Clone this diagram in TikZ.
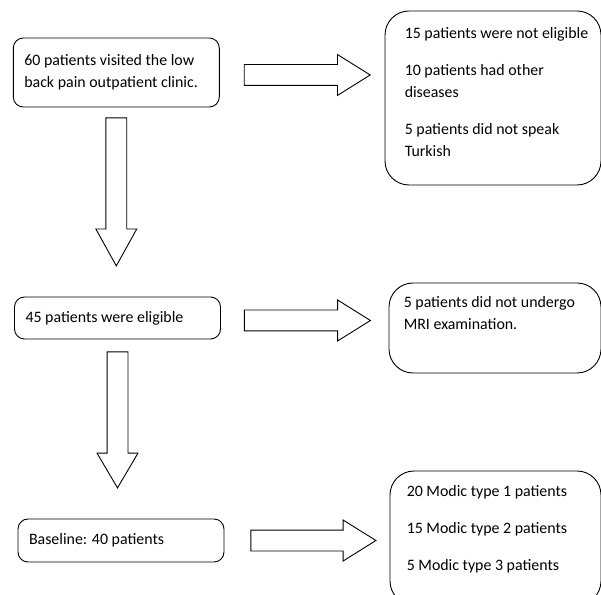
\documentclass[tikz,border=0pt]{standalone}
\usepackage{fontspec}
\setmainfont{Carlito}
\usetikzlibrary{shapes.arrows, positioning}
\tikzstyle{stage} = [draw, rounded corners=10pt, line width=0.9pt, align=flush left, text width=184pt, inner xsep=11pt, font=\fontsize{15.9}{22}\selectfont]
\tikzstyle{outcome} = [draw, rounded corners=24pt, line width=0.9pt]
\tikzstyle{note} = [align=flush left, inner sep=0pt, font=\fontsize{15.9}{22}\selectfont]
\tikzstyle{harrow} = [single arrow, draw, line width=0.9pt, inner xsep=0pt, inner ysep=10pt, single arrow head extend=10pt, single arrow tip angle=64, minimum height=126pt]
\tikzstyle{varrow} = [harrow, rotate=-90, single arrow tip angle=58]

\begin{document}
\begin{tikzpicture}[x=1pt, y=1pt]
    \useasboundingbox (0,0) rectangle (601,594);
    \clip (0,0) rectangle (601,594);
        % left column
        \node[stage, minimum height=69pt] (visit) at (116.3,521.5) {60 patients visited the low\\back pain outpatient clinic.};
        \node[stage, minimum height=42pt] (elig) at (117.5,276) {45 patients were eligible};
        \node[stage, minimum height=43pt] (base) at (121,53.5) {Baseline: 40 patients};
        % right column
        \node[outcome, minimum width=216pt, minimum height=174pt] (excl1) at (493,496) {};
        \node[note, below right=17pt and 20pt of excl1.north west] (excl1txt) {15 patients were not eligible\\[15pt]10 patients had other\\diseases\\[15pt]5 patients did not speak\\Turkish};
        \node[outcome, minimum width=212pt, minimum height=90pt] (excl2) at (495,266) {};
        \node[note, below right=14pt and 15pt of excl2.north west] (excl2txt) {5 patients did not undergo\\MRI examination.};
        \node[outcome, minimum width=211pt, minimum height=134pt] (modic) at (495.5,56) {};
        \node[note, below right=15pt and 17pt of modic.north west] (modictxt) {20 Modic type 1 patients\\[15pt]15 Modic type 2 patients\\[15pt]5 Modic type 3 patients};
        % block arrows
        \node[harrow, right=24pt of visit, anchor=tail, yshift=-2.5pt] (toexcl1) {};
        \node[harrow, right=23pt of elig, anchor=tail, yshift=-2.5pt] (toexcl2) {};
        \node[harrow, right=26pt of base, anchor=tail, minimum height=125pt] (tomodic) {};
        \node[varrow, below=10pt of visit, anchor=tail, minimum height=148pt] (toelig) {};
        \node[varrow, below=12pt of elig, anchor=tail, minimum height=136pt, single arrow tip angle=61] (tobase) {};
    \end{tikzpicture}
\end{document}
